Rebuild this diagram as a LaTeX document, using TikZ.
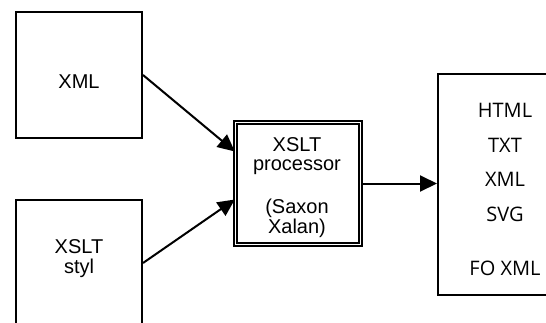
\documentclass[tikz,border=0pt]{standalone}
\usepackage{fontspec}
\setmainfont{Liberation Sans}
\newfontfamily\outfont{Open Sans}
\usetikzlibrary{arrows.meta}
\tikzset{
  box/.style={draw=black, line width=2pt, fill=white, inner sep=0pt},
  procbox/.style={draw=black, double=white, double distance=1.8pt, line width=1.4pt, inner sep=0pt},
  lbl/.style={inner sep=0pt, font=\fontsize{20}{24}\selectfont, align=center},
  olbl/.style={inner sep=0pt, font=\outfont\fontsize{20}{24}\selectfont},
  conn/.style={line width=2pt, -{Triangle[length=17pt,width=16pt]}},
}
\begin{document}
\begin{tikzpicture}[x=1pt,y=-1pt]
\clip (0,0) rectangle (546,322);
\fill[white] (0,0) rectangle (546,322);
\node[box, minimum width=126pt, minimum height=126pt] (xml) at (79,75) {};
\node[box, minimum width=126pt, minimum height=126pt] (styl) at (79,263) {};
\node[procbox, minimum width=125pt, minimum height=122pt] (proc) at (298,183.5) {};
\node[box, minimum width=130pt, minimum height=221pt] (out) at (503,184.5) {};
\node[lbl] (t1) at (79,82) {XML};
\node[lbl] (t2) at (79,247) {XSLT};
\node[lbl] (t3) at (79,268) {styl};
\node[lbl] (p1) at (297,145) {XSLT};
\node[lbl] (p2) at (297,167) {processor};
\node[lbl] (p3) at (297,208) {(Saxon};
\node[lbl] (p4) at (297,228) {Xalan)};
\node[olbl] (o1) at (505,110) {HTML};
\node[olbl] (o2) at (505,145) {TXT};
\node[olbl] (o3) at (505,179) {XML};
\node[olbl] (o4) at (505,214) {SVG};
\node[olbl] (o5) at (505,268) {FO XML};
\draw[conn] (xml.east) -- ([yshift=32pt]proc.west);
\draw[conn] (styl.east) -- ([yshift=-16pt]proc.west);
\draw[conn] (proc.east) -- (proc.east -| out.west);
\end{tikzpicture}
\end{document}
